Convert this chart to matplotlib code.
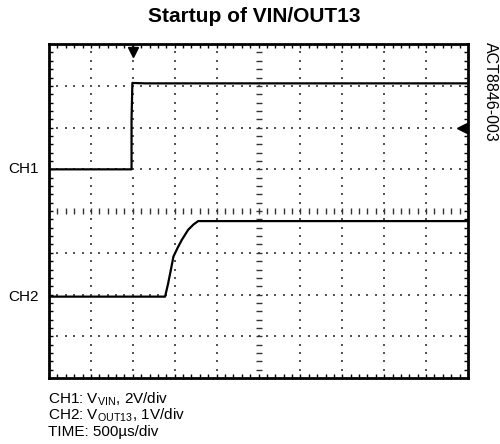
import numpy as np
import matplotlib
matplotlib.use("Agg")
import matplotlib.pyplot as plt

plt.rcParams["font.family"] = ["Liberation Sans", "DejaVu Sans"]

# scope traces, in divisions (x: 0..10, y: 0..8)
ch1_t = [0.0, 1.97, 1.97, 1.99, 2.3, 10.0]
ch1_v = [5.0, 5.0, 6.2, 7.07, 7.06, 7.06]

ch2_t = [0.0, 2.77, 2.84, 2.90, 2.97, 3.07, 3.17, 3.32, 3.45, 3.56, 10.0]
ch2_v = [1.95, 1.95, 2.25, 2.55, 2.91, 3.12, 3.31, 3.55, 3.68, 3.76, 3.76]

ch_labels = ["CH1", "CH2"]
ch_levels = [5.0, 1.95]
trig_t = 2.0
trig_level = 6.0

fig = plt.figure(figsize=(5.0, 4.44), dpi=100)
ax = fig.add_axes([0.098, 0.1486, 0.838, 0.752])
ax.set_xlim(0, 10)
ax.set_ylim(0, 8)

# graticule dots
minor_x = np.arange(0.2, 10.0, 0.2)
minor_y = np.arange(0.2, 8.0, 0.2)
for gx in range(1, 10):
    if gx == 5:
        continue
    ax.scatter(np.full_like(minor_y, gx), minor_y, s=1.5, color="#555555",
               marker="s", linewidths=0, zorder=1)
for gy in range(1, 8):
    if gy == 4:
        continue
    ax.scatter(minor_x, np.full_like(minor_x, gy), s=1.5, color="#555555",
               marker="s", linewidths=0, zorder=1)
# center crosshair with tick dashes
ax.scatter(np.full_like(minor_y, 5), minor_y, s=14, color="#333333",
           marker="_", linewidths=1.0, zorder=1)
ax.scatter(minor_x, np.full_like(minor_x, 4), s=14, color="#333333",
           marker="|", linewidths=1.0, zorder=1)

ax.plot(ch1_t, ch1_v, color="black", lw=1.6, zorder=3)
ax.plot(ch2_t, ch2_v, color="black", lw=1.6, zorder=3)

# trigger markers
ax.plot([trig_t], [7.8], marker="v", color="black", ms=7, zorder=4,
        clip_on=False)
ax.plot([trig_t, trig_t], [7.85, 8.0], color="black", lw=1.2, zorder=4)
ax.plot([9.86], [trig_level], marker="<", color="black", ms=6.5, zorder=4)
ax.plot([9.86, 10.0], [trig_level, trig_level], color="black", lw=1.2, zorder=4)

ax.set_xticks([])
ax.set_yticks([])
ax.set_xticks(minor_x, minor=True)
ax.set_yticks(minor_y, minor=True)
ax.tick_params(which="minor", direction="in", length=3, width=1.0,
               top=True, right=True, bottom=True, left=True,
               labelbottom=False, labelleft=False)
for sp in ax.spines.values():
    sp.set_linewidth(2.0)

for lab, lev in zip(ch_labels, ch_levels):
    ax.text(-0.24, lev, lab, ha="right", va="center", fontsize=11)

fig.text(0.508, 0.962, "Startup of VIN/OUT13", ha="center", va="center",
         fontsize=15, fontweight="bold")
fig.text(0.98, 0.905, "ACT8846-003", ha="center", va="top", rotation=-90,
         fontsize=11.5)

lines = [r"CH1: V$_{\mathregular{VIN}}$, 2V/div",
         r"CH2: V$_{\mathregular{OUT13}}$, 1V/div",
         "TIME: 500µs/div"]
for i, s in enumerate(lines):
    fig.text(0.096, 0.101 - i * 0.0365, s, ha="left", va="center", fontsize=11)

fig.savefig("out.png", dpi=100)
